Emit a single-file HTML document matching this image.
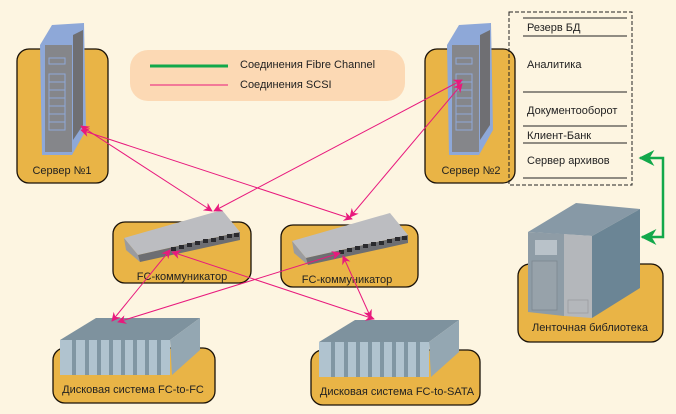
<!DOCTYPE html>
<html><head><meta charset="utf-8"><style>
html,body{margin:0;padding:0;background:#fdf5e1;}
svg{display:block;font-family:"Liberation Sans",sans-serif;}
</style></head><body>
<svg width="676" height="414" viewBox="0 0 676 414" xmlns="http://www.w3.org/2000/svg">
<defs>
<marker id="a" viewBox="0 0 10 10" refX="9" refY="5" markerWidth="9" markerHeight="9" orient="auto-start-reverse" markerUnits="userSpaceOnUse"><path d="M0,0 L10,5 L0,10 L3,5 Z" fill="#e8197d"/></marker>
<marker id="g" viewBox="0 0 10 10" refX="9" refY="5" markerWidth="16" markerHeight="16" orient="auto-start-reverse" markerUnits="userSpaceOnUse"><path d="M0,0 L10,5 L0,10 L3,5 Z" fill="#12a84a"/></marker>
</defs>
<rect width="676" height="414" fill="#fdf5e1"/>

<!-- panels -->
<g fill="#e9b446" stroke="#1a1208" stroke-width="1.3">
<rect x="17" y="49" width="91" height="134" rx="12"/>
<rect x="425" y="49" width="90" height="134" rx="12"/>
<rect x="113" y="222" width="138" height="61" rx="12"/>
<rect x="281" y="225" width="137" height="62" rx="12"/>
<rect x="53" y="348" width="162" height="55" rx="12"/>
<rect x="311" y="350" width="169" height="55" rx="12"/>
<rect x="518" y="264" width="145" height="78" rx="12"/>
</g>

<!-- legend -->
<rect x="130" y="50" width="275" height="51" rx="18" fill="#fcd9b4"/>
<line x1="150" y1="66" x2="228" y2="66" stroke="#12a84a" stroke-width="3"/>
<line x1="150" y1="85" x2="228" y2="85" stroke="#e8197d" stroke-width="1"/>
<text x="240" y="68" font-size="11" fill="#222">Соединения Fibre Channel</text>
<text x="240" y="88" font-size="11" fill="#222">Соединения SCSI</text>

<!-- servers -->
<g id="srv">
<path d="M40,45 L52,25 L84,23 L86,130 L72,155 L42,155 Z" fill="#8ea8d8"/>
<path d="M73,35 L83,30 L83,125 L73,140 Z" fill="#6f6f73"/>
<rect x="45" y="45" width="27" height="107" fill="#85868a"/>
<g fill="none" stroke="#8ea8d8" stroke-width="1">
<rect x="49" y="58" width="16" height="6"/>
<rect x="49" y="74" width="16" height="56"/>
<line x1="49" y1="82" x2="65" y2="82"/><line x1="49" y1="90" x2="65" y2="90"/>
<line x1="49" y1="98" x2="65" y2="98"/><line x1="49" y1="106" x2="65" y2="106"/>
<line x1="49" y1="114" x2="65" y2="114"/><line x1="49" y1="122" x2="65" y2="122"/>
</g>
</g>
<use href="#srv" x="407" y="0"/>
<text x="62" y="174" font-size="11" text-anchor="middle" fill="#222">Сервер №1</text>
<text x="471" y="174" font-size="11" text-anchor="middle" fill="#222">Сервер №2</text>

<!-- dashed box -->
<rect x="509" y="12" width="123" height="173" fill="none" stroke="#222" stroke-width="1" stroke-dasharray="4,2"/>
<g stroke="#222" stroke-width="1">
<line x1="523" y1="18" x2="627" y2="18"/><line x1="523" y1="36" x2="627" y2="36"/>
<line x1="523" y1="92" x2="627" y2="92"/><line x1="523" y1="126" x2="627" y2="126"/>
<line x1="523" y1="143" x2="627" y2="143"/><line x1="523" y1="178" x2="627" y2="178"/>
</g>
<g font-size="11" fill="#222">
<text x="527" y="31">Резерв БД</text>
<text x="527" y="68">Аналитика</text>
<text x="527" y="114">Документооборот</text>
<text x="527" y="139">Клиент-Банк</text>
<text x="527" y="164">Сервер архивов</text>
</g>

<!-- switches -->
<g id="sw">
<path d="M124,238 L222,210 L240,232 L138,255 Z" fill="#bcbdc1"/>
<path d="M124,238 L138,255 L140,262 L126,250 Z" fill="#9a9b9f"/>
<path d="M138,255 L240,232 L240,240 L140,262 Z" fill="#6d6e72"/>
<g fill="#2a2a2e">
<rect x="171" y="247" width="5" height="4"/><rect x="179" y="245" width="5" height="4"/><rect x="187" y="243" width="5" height="4"/><rect x="195" y="241" width="5" height="4"/><rect x="203" y="239" width="5" height="4"/><rect x="211" y="238" width="5" height="4"/><rect x="219" y="236" width="5" height="4"/><rect x="227" y="234" width="5" height="4"/><rect x="234" y="233" width="5" height="4"/>
</g>
</g>
<use href="#sw" x="168" y="3"/>
<text x="182" y="280" font-size="11" text-anchor="middle" fill="#222">FC-коммуникатор</text>
<text x="347" y="283" font-size="11" text-anchor="middle" fill="#222">FC-коммуникатор</text>

<!-- disks -->
<g id="dk">
<path d="M60,340 L96,318 L200,318 L170,340 Z" fill="#7e929e"/>
<path d="M170,340 L200,318 L200,350 L172,375 Z" fill="#94a7b2"/>
<rect x="60" y="340" width="110" height="35" fill="#b0c3cf"/>
<g fill="#8096a3">
<rect x="72" y="340" width="4" height="35"/><rect x="85" y="340" width="4" height="35"/><rect x="97" y="340" width="4" height="35"/><rect x="109" y="340" width="4" height="35"/><rect x="121" y="340" width="4" height="35"/><rect x="133" y="340" width="4" height="35"/><rect x="145" y="340" width="4" height="35"/><rect x="157" y="340" width="4" height="35"/>
</g>
</g>
<use href="#dk" x="259" y="2"/>
<text x="133" y="393" font-size="11" text-anchor="middle" fill="#222">Дисковая система FC-to-FC</text>
<text x="397" y="395" font-size="11" text-anchor="middle" fill="#222">Дисковая система FC-to-SATA</text>

<!-- tape library -->
<path d="M528,232 L576,203 L640,209 L592,236 Z" fill="#8799a6"/>
<path d="M592,236 L640,209 L640,288 L592,318 Z" fill="#6b8595"/>
<path d="M528,232 L564,234 L564,316 L528,312 Z" fill="#8e9ca6"/>
<path d="M564,234 L592,236 L592,318 L564,316 Z" fill="#b4b7bb"/>
<rect x="535" y="240" width="22" height="15" fill="#b9c2c9"/>
<rect x="532" y="261" width="25" height="49" fill="#97a2aa" stroke="#7d8890" stroke-width="0.8"/>
<rect x="568" y="300" width="20" height="13" fill="none" stroke="#9a9da1" stroke-width="0.8"/>
<text x="590" y="331" font-size="11" text-anchor="middle" fill="#222">Ленточная библиотека</text>

<!-- green connector -->
<polyline points="640,158 663,158 663,237 642,237" fill="none" stroke="#12a84a" stroke-width="2.5" marker-start="url(#g)" marker-end="url(#g)"/>

<!-- pink connectors -->
<g stroke="#e8197d" stroke-width="1" fill="none" marker-start="url(#a)" marker-end="url(#a)">
<line x1="81" y1="126" x2="212" y2="211"/>
<line x1="81" y1="130" x2="352" y2="219"/>
<line x1="462" y1="80" x2="214" y2="211"/>
<line x1="462" y1="84" x2="350" y2="217"/>
<line x1="170" y1="250" x2="112" y2="321"/>
<line x1="172" y1="252" x2="374" y2="319"/>
<line x1="340" y1="253" x2="118" y2="322"/>
<line x1="343" y1="256" x2="371" y2="318"/>
</g>
</svg>
</body></html>
